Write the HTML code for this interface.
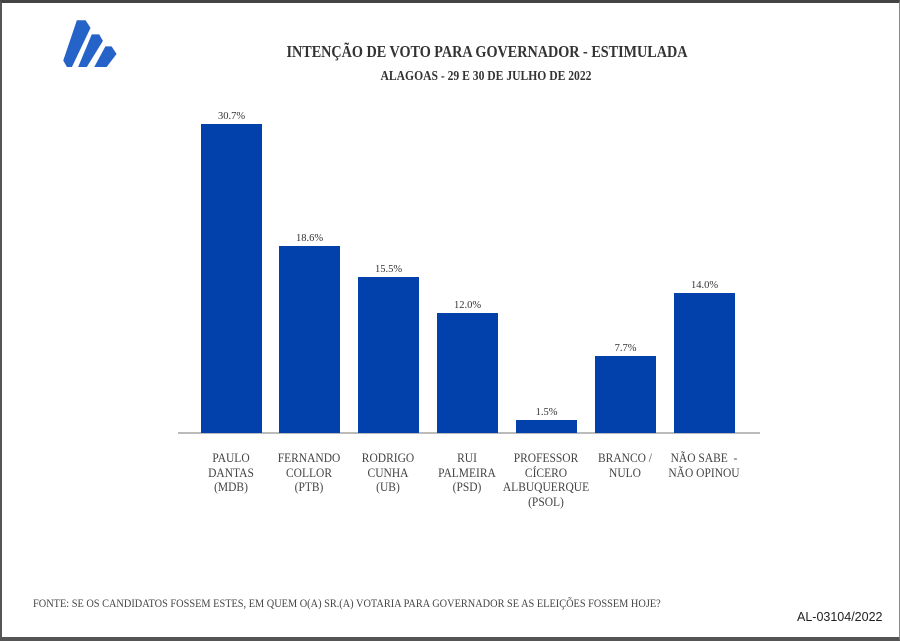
<!DOCTYPE html>
<html><head><meta charset="utf-8"><style>
html,body{margin:0;padding:0;background:#fff;}
body{width:900px;height:641px;position:relative;overflow:hidden;font-family:"Liberation Serif",serif;color:#333;}
.frame{position:absolute;left:0;top:0;width:900px;height:641px;box-sizing:border-box;border-top:3px solid #444;border-left:2px solid #555;border-bottom:4px solid #555;border-right:1px solid #888;}
.t{position:absolute;white-space:nowrap;}
.bar{position:absolute;background:#0241ab;width:61px;}
.v{position:absolute;width:61px;text-align:center;font-size:10.5px;color:#333;}
.lab{position:absolute;width:100px;text-align:center;font-size:12.5px;line-height:14.5px;color:#444;transform:scaleX(0.92);}
</style></head><body>
<div class="frame"></div>
<svg style="position:absolute;left:62px;top:17px" width="62" height="50" viewBox="0 0 50 40" preserveAspectRatio="none">
<polygon points="12,3 19,3 23,10 8,46 4,46 1,40" fill="#2563c8" transform="scale(1,0.87)"/>
<polygon points="24,16 30,16 33,22 20,46 13,46" fill="#2563c8" transform="scale(1,0.87)"/>
<polygon points="35,27 40,27 44,34 36,46 26,46" fill="#2563c8" transform="scale(1,0.87)"/>
</svg>
<div class="t" style="left:37px;width:900px;top:42px;text-align:center;font-size:16.5px;font-weight:bold;color:#333;transform:scaleX(0.86);transform-origin:center top;">INTENÇÃO DE VOTO PARA GOVERNADOR - ESTIMULADA</div>
<div class="t" style="left:36px;width:900px;top:68px;text-align:center;font-size:13.5px;font-weight:bold;color:#333;transform:scaleX(0.86);transform-origin:center top;">ALAGOAS - 29 E 30 DE JULHO DE 2022</div>

<div style="position:absolute;left:178px;top:432px;width:582px;height:2px;background:#bbb"></div>

<div class="bar" style="left:201px;top:124px;height:309px"></div><div class="v" style="left:201px;top:111px">30.7%</div>
<div class="bar" style="left:279px;top:246px;height:187px"></div><div class="v" style="left:279px;top:233px">18.6%</div>
<div class="bar" style="left:358px;top:277px;height:156px"></div><div class="v" style="left:358px;top:264px">15.5%</div>
<div class="bar" style="left:437px;top:313px;height:120px"></div><div class="v" style="left:437px;top:300px">12.0%</div>
<div class="bar" style="left:516px;top:420px;height:13px"></div><div class="v" style="left:516px;top:407px">1.5%</div>
<div class="bar" style="left:595px;top:356px;height:77px"></div><div class="v" style="left:595px;top:343px">7.7%</div>
<div class="bar" style="left:674px;top:293px;height:140px"></div><div class="v" style="left:674px;top:280px">14.0%</div>

<div class="lab" style="left:181px;top:451px">PAULO<br>DANTAS<br>(MDB)</div>
<div class="lab" style="left:259px;top:451px">FERNANDO<br>COLLOR<br>(PTB)</div>
<div class="lab" style="left:338px;top:451px">RODRIGO<br>CUNHA<br>(UB)</div>
<div class="lab" style="left:417px;top:451px">RUI<br>PALMEIRA<br>(PSD)</div>
<div class="lab" style="left:496px;top:451px">PROFESSOR<br>CÍCERO<br>ALBUQUERQUE<br>(PSOL)</div>
<div class="lab" style="left:575px;top:451px">BRANCO /<br>NULO</div>
<div class="lab" style="left:654px;top:451px">NÃO SABE &nbsp;-<br>NÃO OPINOU</div>

<div class="t" style="left:33px;top:596px;font-size:12px;color:#444;transform:scaleX(0.86);transform-origin:left top;">FONTE: SE OS CANDIDATOS FOSSEM ESTES, EM QUEM O(A) SR.(A) VOTARIA PARA GOVERNADOR SE AS ELEIÇÕES FOSSEM HOJE?</div>
<div class="t" style="left:797px;top:610px;font-family:'Liberation Sans',sans-serif;font-size:12.5px;color:#222;">AL-03104/2022</div>
</body></html>
